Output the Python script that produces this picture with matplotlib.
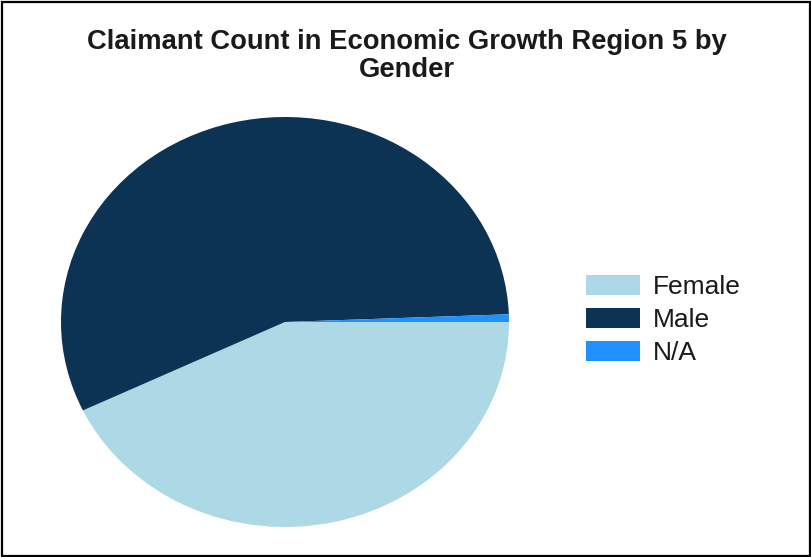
import matplotlib
matplotlib.use("Agg")
import matplotlib.pyplot as plt
from matplotlib.patches import Rectangle

categories = ["Female", "Male", "N/A"]
shares = [42.9, 56.5, 0.6]
colors = ["#ADD8E6", "#0C3254", "#1E90FF"]
title = "Claimant Count in Economic Growth Region 5 by\nGender"

plt.rcParams["font.family"] = ["Liberation Sans", "DejaVu Sans"]

W, H = 812, 557
fig = plt.figure(figsize=(W / 100, H / 100), dpi=100)
fig.patch.set_facecolor("white")

# pie axes in pixel coordinates (elliptical pie)
left, right, top, bottom = 61, 509, 117, 527
ax = fig.add_axes([left / W, (H - bottom) / H, (right - left) / W, (bottom - top) / H])
wedges, _ = ax.pie(shares, colors=colors, startangle=0, counterclock=False,
                   wedgeprops=dict(linewidth=0))
ax.set_aspect("auto")
ax.set_xlim(-1, 1)
ax.set_ylim(-1, 1)
ax.axis("off")

fig.text(407 / W, 1 - 56 / H, title, ha="center", va="center", fontsize=19.7,
         fontweight="bold", color="#1a1a1a", linespacing=1.12)

leg = fig.legend(wedges, categories, loc="upper left",
                 bbox_to_anchor=(586 / W, 1 - 275 / H), frameon=False,
                 fontsize=19, handlelength=2.05, handleheight=0.8,
                 handletextpad=0.5, labelspacing=0.33, borderpad=0.0,
                 borderaxespad=0.0)
for t in leg.get_texts():
    t.set_color("#1a1a1a")

fig.add_artist(Rectangle((2.5 / W, 1.5 / H), 1 - 4 / W, 1 - 3.5 / H,
                         transform=fig.transFigure, fill=False,
                         edgecolor="black", linewidth=1.6))

fig.savefig("out.png", dpi=100)
